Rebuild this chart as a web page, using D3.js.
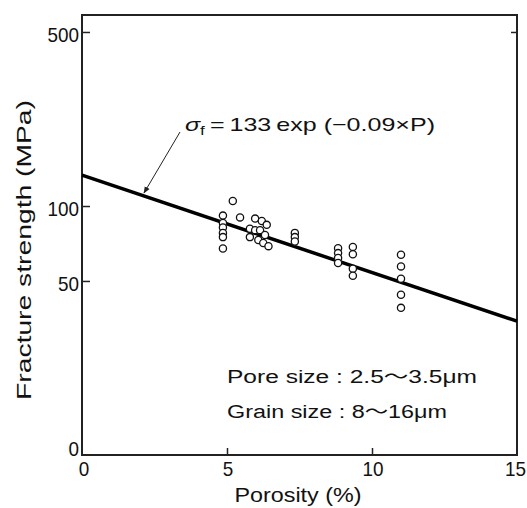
<!DOCTYPE html>
<html>
<head>
<meta charset="utf-8">
<script src="https://cdn.jsdelivr.net/npm/d3@7"></script>
<style>
  body { margin: 0; background: #ffffff; }
  text { font-family: "Liberation Sans", Arial, "Noto Sans CJK JP", sans-serif; fill: #111; }
</style>
</head>
<body>
<script>
const width = 527;
const height = 508;

//DATA
const porosity = [4.86, 4.86, 4.86, 4.86, 4.86, 4.86, 5.2, 5.45,
    5.79, 5.79, 5.97, 5.97, 6.08, 6.14, 6.2, 6.25, 6.31, 6.37, 6.43,
    7.34, 7.34, 7.34,
    8.83, 8.83, 8.83, 8.83,
    9.34, 9.34, 9.34, 9.34,
    11.0, 11.0, 11.0, 11.0, 11.0];
const strength = [91.5, 85.5, 82, 78, 75, 67.5, 104.7, 90,
    81, 75, 89, 80, 73, 80, 87, 71, 76.5, 84, 69,
    78, 75, 72,
    67.7, 64.7, 61.8, 59,
    68.5, 64, 56, 52.5,
    63.7, 57.2, 51, 44, 39];

//fit line: sigma_f = 133 exp(-0.09 P)
const fitA = 133;
const fitB = -0.09;

const xTicks = [0, 5, 10, 15];
const yTicks = [10, 50, 100, 500];
const yTickLabels = ["0", "50", "100", "500"];

const svg = d3.select("body").append("svg")
    .attr("width", width)
    .attr("height", height);

const plotLeft = 82, plotRight = 517, plotTop = 15, plotBottom = 455;

const x = d3.scaleLinear().domain([0, 15]).range([plotLeft, plotRight]);
const y = d3.scaleLog().domain([10, 585]).range([plotBottom, plotTop]);

//frame
svg.append("rect")
    .attr("x", plotLeft)
    .attr("y", plotTop)
    .attr("width", plotRight - plotLeft)
    .attr("height", plotBottom - plotTop)
    .attr("fill", "none")
    .attr("stroke", "#222")
    .attr("stroke-width", 2);

//ticks point inside
const xAxis = d3.axisTop(x).tickValues(xTicks.filter(d => d > 0 && d < 15)).tickSize(7).tickFormat("");
svg.append("g")
    .attr("transform", `translate(0,${plotBottom})`)
    .call(xAxis)
    .call(g => g.select(".domain").remove())
    .call(g => g.selectAll("line").attr("stroke", "#222").attr("stroke-width", 1.5));

const yAxis = d3.axisRight(y).tickValues([50, 100, 500]).tickSize(8).tickFormat("");
svg.append("g")
    .attr("transform", `translate(${plotLeft},0)`)
    .call(yAxis)
    .call(g => g.select(".domain").remove())
    .call(g => g.selectAll("line").attr("stroke", "#222").attr("stroke-width", 1.5));

svg.append("g")
    .attr("transform", `translate(${plotRight},0)`)
    .call(d3.axisLeft(y).tickValues([500]).tickSize(6).tickFormat(""))
    .call(g => g.select(".domain").remove())
    .call(g => g.selectAll("line").attr("stroke", "#222").attr("stroke-width", 1.5));

//tick labels (narrow, tall digits like the scan)
svg.selectAll(".xlab")
    .data(xTicks)
    .enter().append("text")
    .attr("class", "xlab")
    .attr("x", d => d === 15 ? width - 1 : x(d) + (d === 0 ? 2 : 1))
    .attr("y", plotBottom + 21)
    .attr("text-anchor", d => d === 15 ? "end" : "middle")
    .attr("textLength", d => String(d).length * 10.5)
    .attr("lengthAdjust", "spacingAndGlyphs")
    .style("font-size", "21px")
    .text(d => d);

svg.selectAll(".ylab")
    .data(yTicks)
    .enter().append("text")
    .attr("class", "ylab")
    .attr("x", plotLeft - 3)
    .attr("y", (d, i) => y(d) + (d === 10 ? 1 : 10))
    .attr("text-anchor", "end")
    .attr("textLength", (d, i) => yTickLabels[i].length * 10.5)
    .attr("lengthAdjust", "spacingAndGlyphs")
    .style("font-size", "21px")
    .text((d, i) => yTickLabels[i]);

//axis titles
svg.append("text")
    .attr("x", 298)
    .attr("y", 502)
    .attr("text-anchor", "middle")
    .attr("textLength", 127)
    .attr("lengthAdjust", "spacingAndGlyphs")
    .style("font-size", "20px")
    .text("Porosity (%)");

svg.append("text")
    .attr("transform", "translate(31,250) rotate(-90)")
    .attr("text-anchor", "middle")
    .attr("textLength", 300)
    .attr("lengthAdjust", "spacingAndGlyphs")
    .style("font-size", "20px")
    .text("Fracture strength (MPa)");

//fit line
const fitLine = d3.line()
    .x(d => x(d))
    .y(d => y(fitA * Math.exp(fitB * d)));

svg.append("path")
    .datum([0, 15])
    .attr("d", fitLine)
    .attr("fill", "none")
    .attr("stroke", "#000")
    .attr("stroke-width", 3.5);

//points
svg.selectAll(".pt")
    .data(porosity)
    .enter().append("circle")
    .attr("class", "pt")
    .attr("cx", d => x(d))
    .attr("cy", (d, i) => y(strength[i]))
    .attr("r", 3.6)
    .attr("fill", "#fff")
    .attr("stroke", "#111")
    .attr("stroke-width", 1.3);

//equation label + arrow
svg.append("defs").append("marker")
    .attr("id", "arrowhead")
    .attr("viewBox", "0 0 10 10")
    .attr("refX", 9)
    .attr("refY", 5)
    .attr("markerWidth", 7)
    .attr("markerHeight", 7)
    .attr("orient", "auto")
    .append("path")
    .attr("d", "M0,1 L10,5 L0,9 Z")
    .attr("fill", "#222");

svg.append("line")
    .attr("x1", 180)
    .attr("y1", 132)
    .attr("x2", 144)
    .attr("y2", 193)
    .attr("stroke", "#222")
    .attr("stroke-width", 1)
    .attr("marker-end", "url(#arrowhead)");

const eq = svg.append("text")
    .attr("x", 185)
    .attr("y", 131)
    .attr("textLength", 250)
    .attr("lengthAdjust", "spacingAndGlyphs")
    .style("font-size", "19px");
eq.append("tspan").text("σ").style("font-style", "italic");
eq.append("tspan").attr("dy", 4).style("font-size", "13px").text("f");
eq.append("tspan").attr("dy", -4).text("\u2009=\u2009133\u2009exp (\u22120.09\u00d7P)");

//material notes
svg.append("text")
    .attr("x", 227)
    .attr("y", 383)
    .attr("textLength", 250)
    .attr("lengthAdjust", "spacingAndGlyphs")
    .style("font-size", "18px")
    .text("Pore size  : 2.5〜3.5μm");

svg.append("text")
    .attr("x", 227)
    .attr("y", 418)
    .attr("textLength", 220)
    .attr("lengthAdjust", "spacingAndGlyphs")
    .style("font-size", "18px")
    .text("Grain size : 8〜16μm");
</script>
</body>
</html>
